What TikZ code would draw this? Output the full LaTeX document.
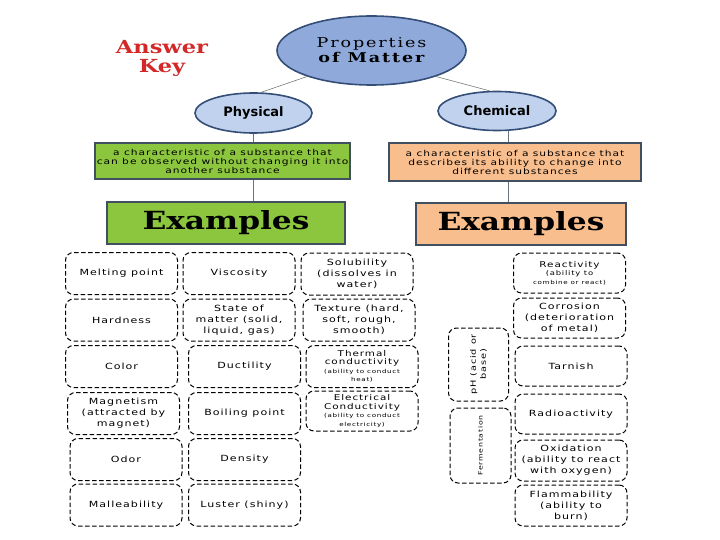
\documentclass[tikz,border=0pt]{standalone}
\usepackage{fontspec}
\usetikzlibrary{positioning,shapes.geometric}
\newfontfamily\labfont{DejaVu Sans}[FakeStretch=1.3,LetterSpace=12]
\newfontfamily\slabfont{DejaVu Serif}[FakeStretch=1.25]
\newfontfamily\titlefont{DejaVu Serif}[FakeStretch=1.3,LetterSpace=14]
\newfontfamily\ovalfont{DejaVu Sans}
\newcommand\smtext{\fontsize{5.5}{6.5}\selectfont}
\definecolor{mainblue}{RGB}{143,170,218}
\definecolor{lightblue}{RGB}{192,210,238}
\definecolor{ovalline}{RGB}{52,78,120}
\definecolor{physgreen}{RGB}{140,198,63}
\definecolor{chempeach}{RGB}{248,190,142}
\definecolor{boxline}{RGB}{64,80,96}
\definecolor{keyred}{RGB}{210,40,40}

\begin{document}
\begin{tikzpicture}[x=1pt,y=-1pt,
  every node/.style={font=\labfont\fontsize{8.5}{11}\selectfont},
  oval/.style={ellipse,draw=ovalline,line width=1.6pt,inner sep=0pt},
  descbox/.style={draw=boxline,line width=1.6pt,align=center,inner sep=0pt,font=\labfont\fontsize{8.2}{9}\selectfont},
  exbox/.style={draw=boxline,line width=1.8pt,inner sep=0pt,font=\slabfont\bfseries\fontsize{25}{27}\selectfont},
  ex/.style={draw=black,line width=1pt,dash pattern=on 4.5pt off 2.5pt,rounded corners=8pt,
    minimum width=112pt,minimum height=42pt,align=center,inner sep=1pt},
  mixed/.style={font=\labfont\fontsize{8}{8.5}\selectfont},
  link/.style={draw=gray!80!black,line width=0.5pt},
  stem/.style={draw=boxline!80,line width=1pt}]
\useasboundingbox (0,0) rectangle (720,540);

% top of the map
\node[align=center,text=keyred,font=\slabfont\bfseries\fontsize{18}{19}\selectfont] (key) at (162,58) {Answer\\Key};
\node[oval,fill=mainblue,minimum width=189pt,minimum height=69pt,align=center,
  font=\titlefont\fontsize{13.5}{15}\selectfont] (main) at (371.5,50.5) {Properties\\\bfseries of Matter};
\node[oval,fill=lightblue,minimum width=117pt,minimum height=40pt,font=\ovalfont\bfseries\fontsize{13}{14}\selectfont] (phys) at (253.5,113) {Physical};
\node[oval,fill=lightblue,minimum width=118pt,minimum height=39pt,font=\ovalfont\bfseries\fontsize{13}{14}\selectfont] (chem) at (497,111) {Chemical};

\draw[link] (main.202) -- (phys.70);
\draw[link] (main.338) -- (chem.110);

\node[descbox,fill=physgreen,minimum width=255pt,minimum height=36pt] (gdesc) at (222.5,161) {a characteristic of a substance that\\can be observed without changing it into\\another substance};
\node[descbox,fill=chempeach,minimum width=252pt,minimum height=38pt] (pdesc) at (515,162) {a characteristic of a substance that\\describes its ability to change into\\different substances};

\node[exbox,fill=physgreen,minimum width=238pt,minimum height=42pt] (gex) at (226,223) {Examples};
\node[exbox,fill=chempeach,minimum width=210pt,minimum height=42pt] (pex) at (521,224) {Examples};

\draw[stem] (phys.south) -- (phys.south |- gdesc.north);
\draw[stem] (gdesc.south -| phys.south) -- (gex.north -| phys.south);
\draw[stem] (chem.-60) -- (chem.-60 |- pdesc.north);
\draw[stem] (pdesc.south -| chem.-60) -- (pex.north -| chem.-60);

% physical examples
\node[ex] (m11) at (121.5,273.5) {Melting point};
\node[ex] (m21) at (121.5,320) {Hardness};
\node[ex] (m31) at (121.5,366.5) {Color};
\node[ex] (m41) at (123.5,413.5) {Magnetism\\(attracted by\\magnet)};
\node[ex] (m51) at (126,459.5) {Odor};
\node[ex] (m61) at (126,505) {Malleability};
\node[ex] (m12) at (239,273.5) {Viscosity};
\node[ex] (m22) at (239,320) {State of\\matter (solid,\\liquid, gas)};
\node[ex] (m32) at (244.5,366.5) {Ductility};
\node[ex] (m42) at (244.5,413.5) {Boiling point};
\node[ex] (m52) at (244.5,459.5) {Density};
\node[ex] (m62) at (244.5,505) {Luster (shiny)};
\node[ex] (m13) at (357,274) {Solubility\\(dissolves in\\water)};
\node[ex] (m23) at (359,320) {Texture (hard,\\soft, rough,\\smooth)};
\node[ex,mixed] (m33) at (362,366.5) {Thermal\\conductivity\\\smtext(ability to conduct\\\smtext heat)};
\node[ex,mixed,minimum height=40pt] (m43) at (362,411) {Electrical\\Conductivity\\\smtext(ability to conduct\\\smtext electricity)};

% chemical examples
\node[ex,mixed,minimum height=40pt] (c1) at (569.5,273) {Reactivity\\\fontsize{6.5}{8}\selectfont(ability to\\\smtext combine or react)};
\node[ex,minimum height=40pt] (c2) at (569.5,318) {Corrosion\\(deterioration\\of metal)};
\node[ex,minimum height=40pt] (c3) at (571,366) {Tarnish};
\node[ex,minimum height=40pt] (c4) at (571,414) {Radioactivity};
\node[ex,minimum height=41pt] (c5) at (571,460.5) {Oxidation\\(ability to react\\with oxygen)};
\node[ex,minimum height=41pt] (c6) at (571,505.5) {Flammability\\(ability to\\burn)};
\node[ex,minimum width=60pt,minimum height=73pt] (ph) at (478.5,364.5) {};
\node[rotate=90,align=center,font=\labfont\fontsize{7.5}{10}\selectfont] (phtxt) at (ph.center) {pH (acid or\\base)};
\node[ex,minimum width=61pt,minimum height=75pt] (ferm) at (480.5,445.5) {};
\node[rotate=90,font=\labfont\fontsize{6}{8}\selectfont] (fermtxt) at (ferm.center) {Fermentation};
\end{tikzpicture}
\end{document}
